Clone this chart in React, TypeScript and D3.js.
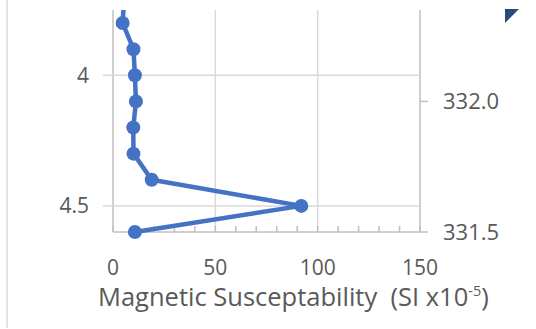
import * as d3 from "d3";

const depths = [3.7, 3.8, 3.9, 4.0, 4.1, 4.2, 4.3, 4.4, 4.5, 4.6];
const susceptibility = [5.5, 4.7, 10.0, 10.7, 11.2, 9.9, 10.0, 18.9, 92, 10.7];
const xTicks = [0, 50, 100, 150];
const depthTicks = [4, 4.5];
const elevTicks = [332.0, 331.5];
const ELEV_TOP = 336.1; // elevation = ELEV_TOP - depth

const W = 536;
const H = 329;
const plot = { left: 113, right: 420, top: 10, bottom: 232 };
const FONT = "'Open Sans', sans-serif";
const BLUE = "#4472C4";
const GRID = "#d9d9d9";
const AXIS = "#bfbfbf";
const TEXT = "#595959";

export default function App() {
  const x = d3.scaleLinear().domain([0, 150]).range([plot.left, plot.right]);
  const y = d3.scaleLinear().domain([3.75, 4.6]).range([plot.top, plot.bottom]);
  const yElev = (e: number) => y(ELEV_TOP - e);

  const pts = depths.map((d, i) => ({ d, v: susceptibility[i] }));
  const line = d3
    .line<{ d: number; v: number }>()
    .x((p) => x(p.v))
    .y((p) => y(p.d));

  const minor = d3.range(0, 151, 10);

  return (
    <svg
      width={W}
      height={H}
      style={{ position: "absolute", left: 0, top: 0, background: "#fff" }}
      fontFamily={FONT}
    >
      <defs>
        <clipPath id="plotclip">
          <rect x={0} y={plot.top} width={W} height={H - plot.top} />
        </clipPath>
      </defs>

      {/* chart border */}
      <line x1={7} x2={7} y1={0} y2={328} stroke={GRID} strokeWidth={1.5} />

      {/* vertical gridlines */}
      {xTicks.map((t) => (
        <line
          key={"vg" + t}
          x1={x(t)}
          x2={x(t)}
          y1={plot.top}
          y2={plot.bottom}
          stroke={t === 0 || t === 150 ? AXIS : GRID}
          strokeWidth={1.5}
        />
      ))}

      {/* horizontal gridlines */}
      {depthTicks.map((t) => (
        <line
          key={"hg" + t}
          x1={plot.left - 10}
          x2={plot.right}
          y1={y(t)}
          y2={y(t)}
          stroke={GRID}
          strokeWidth={1.5}
        />
      ))}

      {/* bottom axis */}
      <line x1={plot.left} x2={plot.right} y1={plot.bottom} y2={plot.bottom} stroke={AXIS} strokeWidth={1.5} />
      {minor.map((t) => (
        <line
          key={"mt" + t}
          x1={x(t)}
          x2={x(t)}
          y1={plot.bottom - 6}
          y2={plot.bottom}
          stroke={AXIS}
          strokeWidth={1.5}
        />
      ))}

      {/* right axis ticks */}
      {elevTicks.map((t) => (
        <line
          key={"rt" + t}
          x1={plot.right}
          x2={plot.right + 8}
          y1={yElev(t)}
          y2={yElev(t)}
          stroke={AXIS}
          strokeWidth={1.5}
        />
      ))}

      {/* series */}
      <g clipPath="url(#plotclip)">
        <path d={line(pts) ?? ""} fill="none" stroke={BLUE} strokeWidth={4.5} strokeLinejoin="round" />
        {pts.map((p, i) => (
          <circle key={i} cx={x(p.v)} cy={y(p.d)} r={7} fill={BLUE} />
        ))}
      </g>

      {/* labels */}
      {depthTicks.map((t) => (
        <text key={"dl" + t} x={89} y={y(t)} dy="0.35em" textAnchor="end" fontSize={21} fill={TEXT}>
          {String(t)}
        </text>
      ))}
      {elevTicks.map((t) => (
        <text key={"el" + t} x={443} y={yElev(t)} dy="0.35em" fontSize={22} fill={TEXT}>
          {t.toFixed(1)}
        </text>
      ))}
      {xTicks.map((t) => (
        <text key={"xl" + t} x={x(t)} y={275} textAnchor="middle" fontSize={21} fill={TEXT}>
          {String(t)}
        </text>
      ))}
      <text x={98} y={306} fontSize={25.5} fill={TEXT}>
        Magnetic Susceptability{"\u00a0\u00a0"}(SI x10
        <tspan fontSize={14.5} dy={-10}>-5</tspan>
        <tspan dy={10}>)</tspan>
      </text>

      {/* partial legend marker at top right */}
      <path d="M505,9 L519,9 L505,23 Z" fill="#2b4a7a" />
    </svg>
  );
}
